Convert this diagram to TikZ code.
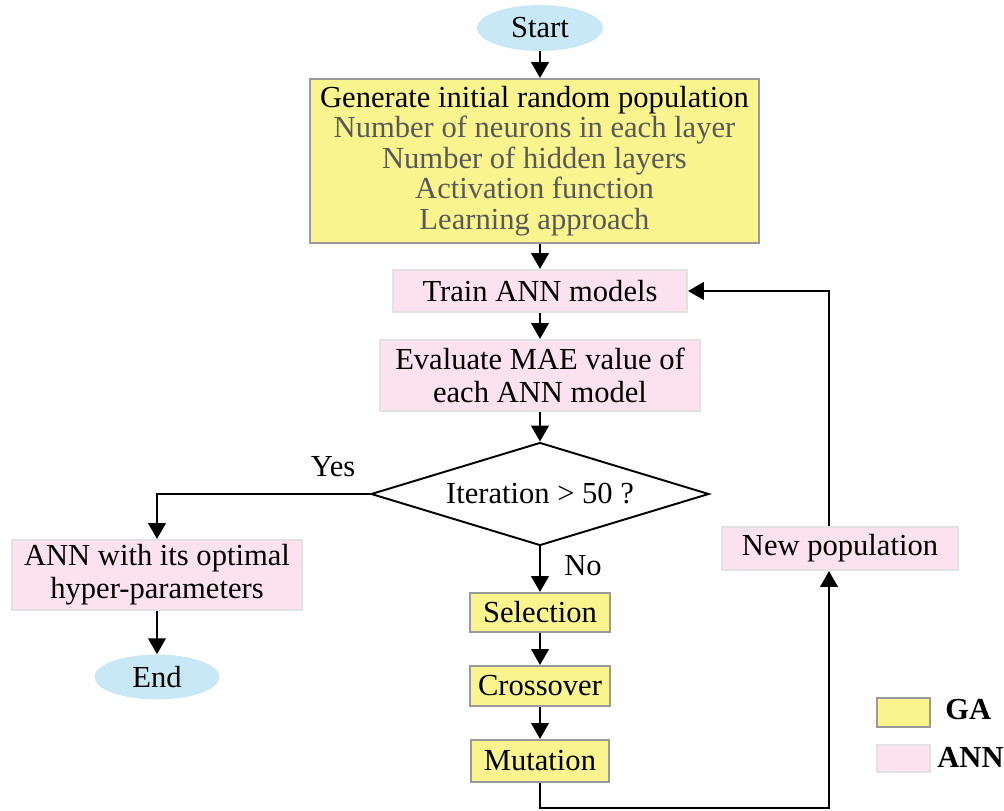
\documentclass[tikz,border=0pt]{standalone}
\usepackage{fontspec}
\setmainfont{Liberation Serif}
\usetikzlibrary{shapes.geometric, arrows.meta, positioning, calc}

\definecolor{gaYellow}{HTML}{FAF48F}
\definecolor{annPink}{HTML}{FCE1EF}
\definecolor{termBlue}{HTML}{C8E8F6}
\definecolor{gaEdge}{HTML}{9A9A9A}
\definecolor{annEdge}{HTML}{E2E2E2}
\definecolor{subText}{HTML}{595959}

\begin{document}
\begin{tikzpicture}[x=0.02cm, y=-0.02cm,
    every node/.style={font=\fontsize{17.4}{17.4}\selectfont, inner sep=0pt},
    ga/.style={draw=gaEdge, line width=1.2pt, fill=gaYellow, rectangle},
    ann/.style={draw=annEdge, line width=1.2pt, fill=annPink, rectangle},
    term/.style={ellipse, fill=termBlue},
    arr/.style={-{Triangle[length=9pt, width=10pt]}, line width=1.1pt}]
    \useasboundingbox (0,0) rectangle (1004,811);

    % Start / End
    \node[term, minimum width=2.52cm, minimum height=0.92cm] (start) at (540,28) {Start};
    \node[term, minimum width=2.5cm, minimum height=0.9cm] (end) at (157,677) {End};

    % Initial population
    \node[ga, minimum width=8.98cm, minimum height=3.28cm, align=center] (gen) at (534.5,161)
        {Generate initial random population\\
         \color{subText}Number of neurons in each layer\\
         \color{subText}Number of hidden layers\\
         \color{subText}Activation function\\
         \color{subText}Learning approach};

    % ANN steps
    \node[ann, minimum width=5.88cm, minimum height=0.84cm] (train) at (540,291) {Train ANN models};
    \node[ann, minimum width=6.4cm, minimum height=1.42cm, align=center] (eval) at (540,375.5)
        {Evaluate MAE value of\\[1pt]each ANN model};

    % Decision
    \node[diamond, draw, line width=1.1pt, aspect=3.3, minimum width=6.76cm, minimum height=2.06cm] (dec) at (540,494)
        {Iteration > 50 ?};
    \node (yes) at (333,467) {Yes};
    \node (no) at (583,566) {No};

    \node[ann, minimum width=5.8cm, minimum height=1.4cm, align=center] (opt) at (157,575)
        {ANN with its optimal\\[1.5pt]hyper-parameters};

    % GA operators
    \node[ga, minimum width=2.8cm, minimum height=0.78cm] (sel) at (540,612.5) {Selection};
    \node[ga, minimum width=2.8cm, minimum height=0.8cm] (cross) at (540,686) {Crossover};
    \node[ga, minimum width=2.76cm, minimum height=0.84cm] (mut) at (540,761) {Mutation};

    \node[ann, minimum width=4.72cm, minimum height=0.86cm] (newpop) at (840,548.5) {New population};
    \coordinate (loop) at (829,808);

    % Legend
    \node[ga, minimum width=1.06cm, minimum height=0.58cm] (keyga) at (903.5,712.5) {};
    \node[ann, minimum width=1.06cm, minimum height=0.54cm] (keyann) at (903.5,758.5) {};
    \node[anchor=west, font=\fontsize{17.4}{17.4}\selectfont\bfseries] (keygatxt) at (945,710) {GA};
    \node[anchor=west, font=\fontsize{17.4}{17.4}\selectfont\bfseries] (keyanntxt) at (937,757) {ANN};

    \draw[arr] (start) -- (start |- gen.north);
    \draw[arr] (train |- gen.south) -- (train);
    \draw[arr] (train) -- (eval);
    \draw[arr] (eval) -- (dec);
    \draw[arr] (dec.west) -| (opt.north);
    \draw[arr] (opt) -- (end);
    \draw[arr] (dec.south) -- (sel);
    \draw[arr] (sel) -- (cross);
    \draw[arr] (cross) -- (mut);
    \draw[arr] (mut.south) |- (loop) -- (newpop.south -| loop);
    \draw[arr] (newpop.north -| loop) |- (train.east);
\end{tikzpicture}
\end{document}
